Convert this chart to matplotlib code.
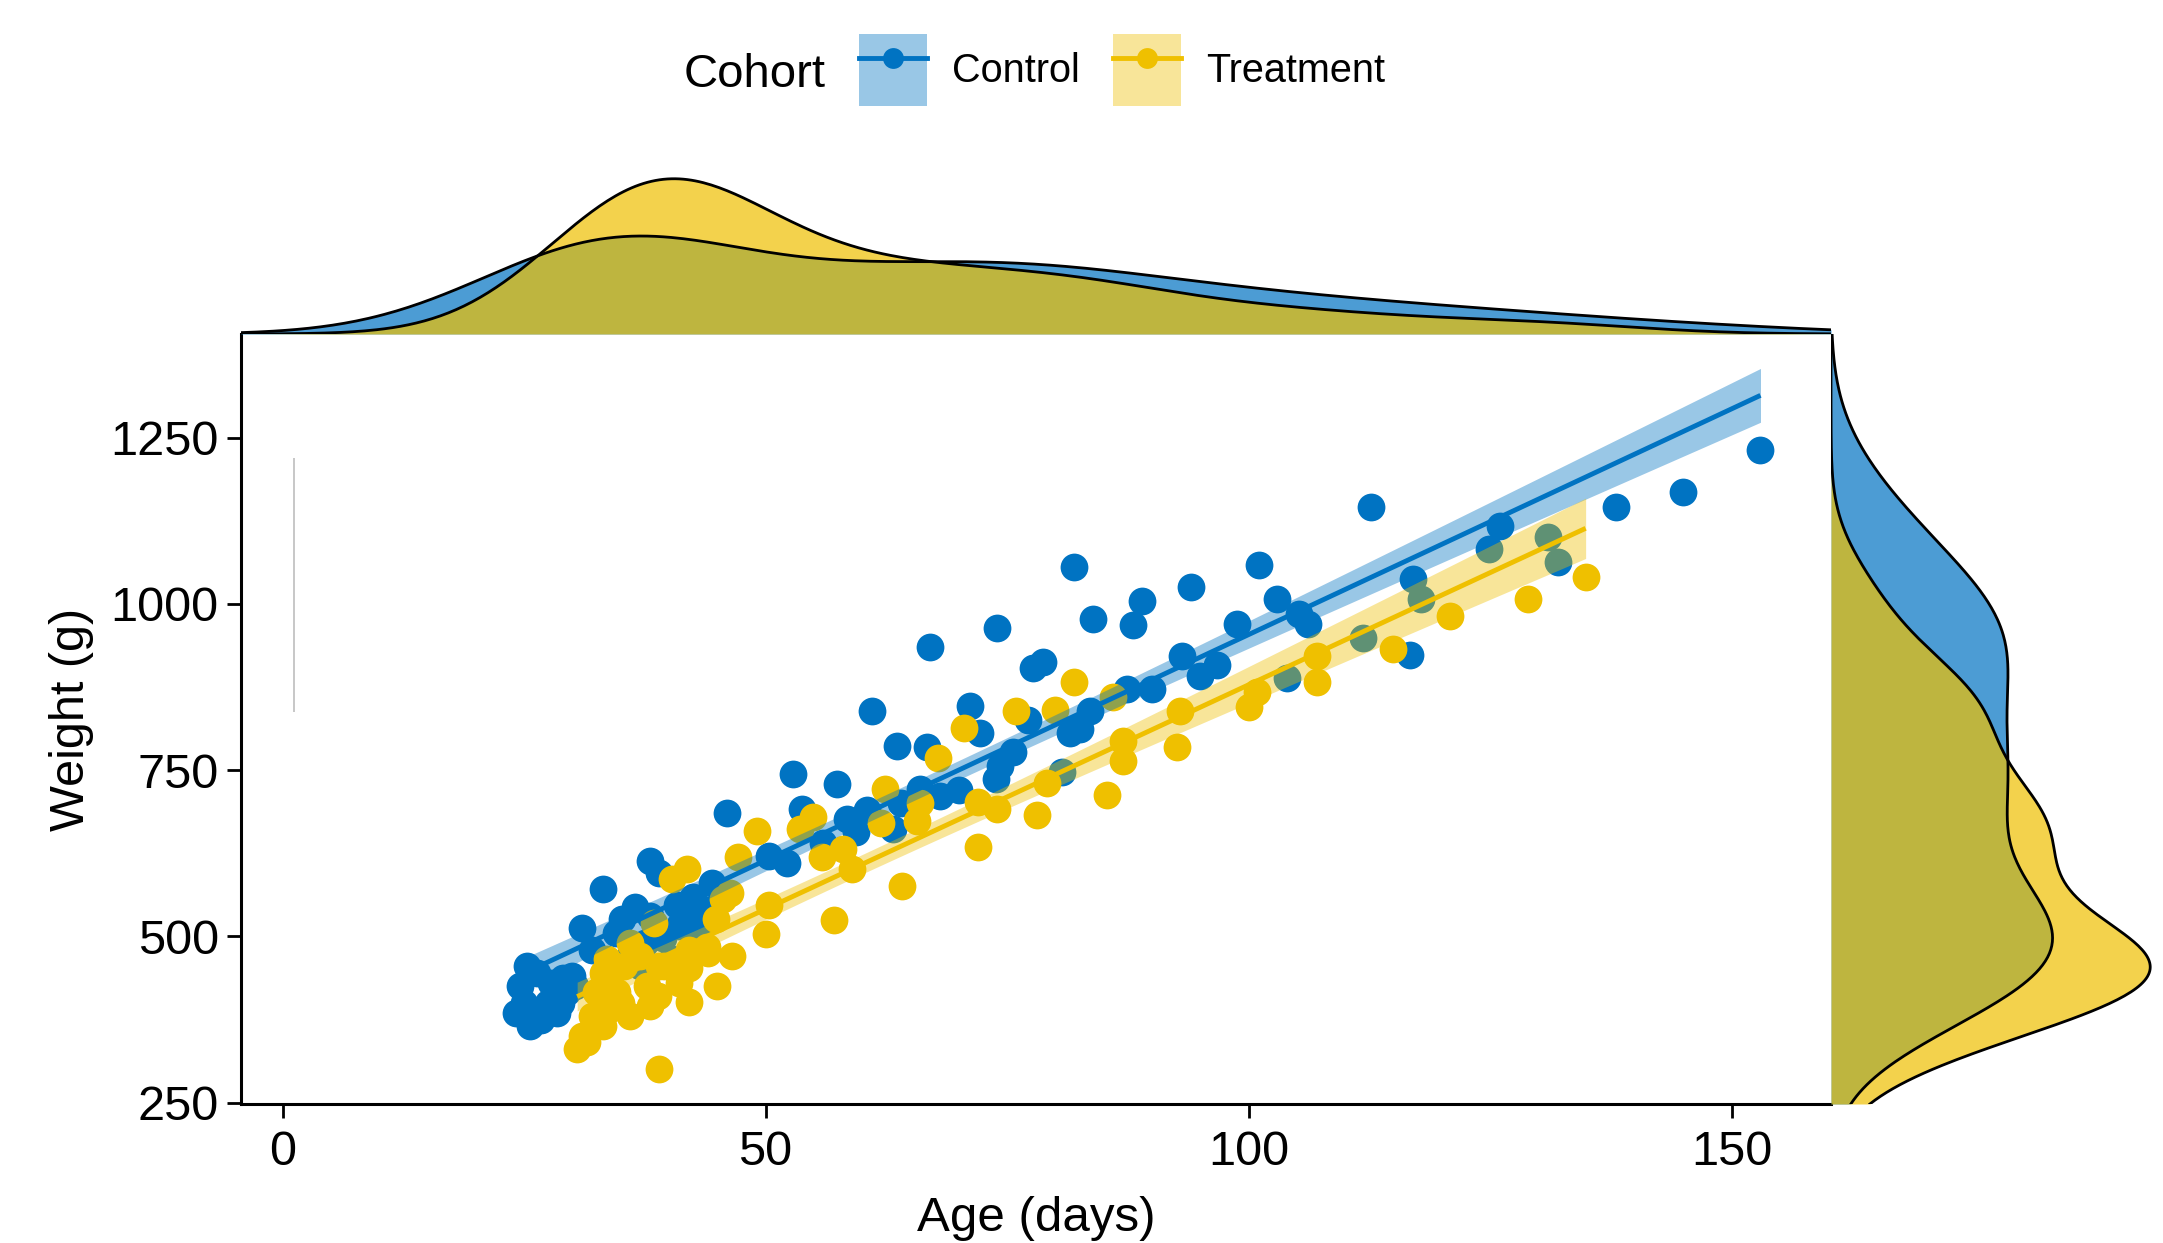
import numpy as np
import matplotlib
matplotlib.use("Agg")
import matplotlib.pyplot as plt
from matplotlib.patches import Patch
from matplotlib.lines import Line2D
from matplotlib.legend_handler import HandlerTuple

plt.rcParams['font.family'] = ['Liberation Sans', 'DejaVu Sans']

# Control cohort: age (days) and weight (g)
ctrl_age = [24.6, 24.2, 25.6, 26.3, 29.0, 28.4, 29.4, 25.3, 27.5, 30.3,
            25.0, 26.8, 27.8, 28.8, 30.0, 32.0, 34.5, 36.5, 42.5, 44.5,
            36.0, 37.5, 39.0, 41.0, 42.5, 44.0, 43.0, 37.0,
            31.0, 33.2, 35.1, 38.0, 39.0, 40.8, 38.0, 42.1, 39.4, 40.3,
            46.0, 50.4, 52.2, 52.8, 53.8, 57.4, 58.4, 59.4, 63.2, 61.0,
            63.6, 66.7, 67.0, 66.0, 68.1, 56.0, 60.5, 64.0, 70.0,
            71.2, 72.2, 74.0, 73.9, 74.3, 75.6, 77.2, 77.7, 78.7, 81.5,
            83.6, 82.6, 81.9, 83.9, 80.7,
            87.4, 88.0, 89.0, 90.0, 93.1, 94.0, 95.0, 96.7, 98.8,
            101.1, 102.9, 104.0, 105.2, 106.2, 111.9, 112.7, 116.7, 117.0, 117.9,
            124.9, 126.0, 131.0, 132.0, 138.0, 145.0, 153.0]
ctrl_wt = [426, 385, 366, 445, 437, 385, 416, 455, 400, 425,
           400, 375, 430, 400, 440, 480, 505, 545, 560, 580,
           470, 490, 505, 515, 530, 540, 500, 455,
           513, 571, 526, 613, 596, 547, 530, 526, 497, 466,
           686, 621, 611, 744, 692, 729, 677, 657, 661, 839,
           787, 785, 935, 721, 711, 640, 690, 700, 720,
           847, 806, 964, 737, 756, 777, 825, 904, 912, 806,
           839, 812, 1055, 978, 748,
           872, 968, 1005, 872, 922, 1026, 891, 908, 970,
           1058, 1007, 889, 985, 970, 949, 1146, 924, 1038, 1007,
           1082, 1117, 1101, 1063, 1146, 1169, 1231]

# Treatment cohort
treat_age = [30.5, 31.5, 33.2, 33.9, 34.6, 32.5, 33.2, 33.6, 35.3, 37.7,
             38.9, 39.0, 42.1, 45.0, 42.1, 43.9, 42.1, 44.9, 45.6, 46.3,
             40.3, 41.9, 47.1, 50.4, 50.1, 36.0, 38.5, 41.0,
             31.0, 32.0, 35.0, 37.0, 38.0, 36.0, 39.5, 46.5,
             36.5, 39.0, 41.5, 44.0,
             49.1, 53.6, 54.9, 57.1, 58.0, 59.0, 55.8,
             62.4, 64.1, 65.7, 67.9, 70.5, 72.0, 74.0, 72.0, 75.9, 78.1,
             79.1, 80.0, 81.9, 62.0, 66.0,
             85.3, 86.0, 87.0, 87.0, 92.6, 92.9, 100.1, 100.9,
             107.1, 107.1, 115.0, 120.9, 128.9, 134.9]
treat_wt = [331, 341, 366, 391, 416, 416, 445, 466, 455, 426,
            410, 300, 401, 426, 453, 484, 480, 526, 557, 566,
            586, 601, 619, 547, 503, 490, 520, 430,
            350, 380, 400, 470, 395, 380, 455, 470,
            470, 455, 465, 475,
            659, 661, 679, 524, 632, 601, 620,
            721, 576, 673, 769, 814, 702, 692, 634, 839, 682,
            731, 841, 883, 670, 700,
            713, 860, 794, 764, 785, 839, 845, 868,
            922, 883, 933, 982, 1007, 1040]

cohorts = ["Control", "Treatment"]
colors = ["#0073C2", "#EFC000"]

# faint vertical stroke left of the data
stray_x = [1.2]
stray_lo = [838]
stray_hi = [1219]

x_ticks = [0, 50, 100, 150]
y_ticks = [250, 500, 750, 1000, 1250]
xlim = (-4.3, 160.3)
ylim = (248, 1406)


def kde(vals, grid):
    vals = np.asarray(vals, float)
    n = len(vals)
    sd = vals.std(ddof=1)
    q75, q25 = np.percentile(vals, [75, 25])
    bw = 0.9 * min(sd, (q75 - q25) / 1.34) * n ** -0.2
    z = (grid[:, None] - vals[None, :]) / bw
    return np.exp(-0.5 * z ** 2).sum(1) / (n * bw * np.sqrt(2 * np.pi))


def lm_band(x, y, xs):
    x = np.asarray(x, float)
    y = np.asarray(y, float)
    n = len(x)
    b, a = np.polyfit(x, y, 1)
    s = np.sqrt(np.sum((y - (a + b * x)) ** 2) / (n - 2))
    se = s * np.sqrt(1 / n + (xs - x.mean()) ** 2 / np.sum((x - x.mean()) ** 2))
    fit = a + b * xs
    return fit, fit - 1.99 * se, fit + 1.99 * se


W, H = 2163, 1243
fig = plt.figure(figsize=(W / 100, H / 100), dpi=100)
ax = fig.add_axes([241 / W, 1 - 1104 / H, 1590 / W, 770 / H])
axt = fig.add_axes([241 / W, 1 - 334 / H, 1590 / W, 163 / H])
axr = fig.add_axes([1831 / W, 1 - 1104 / H, 332 / W, 770 / H])

data = [(ctrl_age, ctrl_wt), (treat_age, treat_wt)]

# scatter
for (xa, ya), c in zip(data, colors):
    ax.scatter(xa, ya, s=400, color=c, linewidths=0, zorder=2)

# regression lines with confidence bands
for (xa, ya), c in zip(data, colors):
    xs = np.linspace(min(xa), max(xa), 80)
    fit, lo, hi = lm_band(xa, ya, xs)
    ax.fill_between(xs, lo, hi, color=c, alpha=0.4, linewidth=0, zorder=3)
    ax.plot(xs, fit, color=c, lw=3.5, zorder=4, solid_capstyle='butt')

ax.vlines(stray_x, stray_lo, stray_hi, color='#BEBEBE', lw=1.2, zorder=1)

ax.set_xlim(*xlim)
ax.set_ylim(*ylim)
ax.set_xticks(x_ticks)
ax.set_yticks(y_ticks)
for side in ['top', 'right']:
    ax.spines[side].set_visible(False)
for side in ['left', 'bottom']:
    ax.spines[side].set_linewidth(2.2)
ax.tick_params(axis='both', length=10, width=2.0, labelsize=35, colors='black')
ax.tick_params(axis='x', pad=9)
ax.tick_params(axis='y', pad=6)
ax.set_xlabel("Age (days)", fontsize=35.5, labelpad=15)
ax.set_ylabel("Weight (g)", fontsize=35, labelpad=12)

# marginal densities
gx = np.linspace(xlim[0], xlim[1], 400)
gy = np.linspace(ylim[0], ylim[1], 400)
tops, rights = [], []
for (xa, ya), c in zip(data, colors):
    dx = kde(xa, gx)
    dy = kde(ya, gy)
    tops.append(dx.max())
    rights.append(dy.max())
    axt.fill_between(gx, 0, dx, color=c, alpha=0.7, linewidth=0)
    axt.plot(gx, dx, color='black', lw=2)
    axr.fill_betweenx(gy, 0, dy, color=c, alpha=0.7, linewidth=0)
    axr.plot(dy, gy, color='black', lw=2)

axt.set_xlim(*xlim)
axt.set_ylim(0, max(tops) * 1.05)
axr.set_ylim(*ylim)
axr.set_xlim(0, max(rights) * 1.04)
for a in (axt, axr):
    a.axis('off')

# legend
handles = [(Patch(facecolor=c, alpha=0.4, edgecolor='none'),
            Line2D([], [], color=c, lw=3.5, marker='o', ms=15, markeredgewidth=0))
           for c in colors]
fig.legend(handles, cohorts, loc='center left', bbox_to_anchor=(859 / W, 1 - 70 / H),
           ncol=2, frameon=False, borderpad=0, borderaxespad=0,
           handlelength=1.71, handleheight=2.46, handletextpad=0.63, columnspacing=0.86,
           handler_map={tuple: HandlerTuple(ndivide=1)},
           prop={'family': ['Liberation Sans', 'DejaVu Sans'], 'size': 28.5})
fig.text(684 / W, 1 - 75 / H, "Cohort", fontsize=34, va='center', ha='left')

fig.savefig("out.png", dpi=100)
